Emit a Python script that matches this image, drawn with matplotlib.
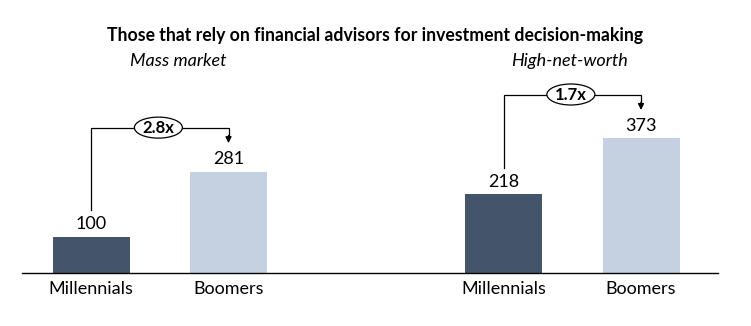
import matplotlib
matplotlib.use("Agg")
import matplotlib.pyplot as plt
from matplotlib.patches import Ellipse

plt.rcParams["font.family"] = ["Lato", "DejaVu Sans"]

# data
groups = ["Mass market", "High-net-worth"]
categories = ["Millennials", "Boomers", "Millennials", "Boomers"]
millennials = [100, 218]
boomers = [281, 373]
title = "Those that rely on financial advisors for investment decision-making"

DARK = "#44546A"
LIGHT = "#C5D0E1"

W, H = 751, 326
fig = plt.figure(figsize=(W / 100, H / 100), dpi=100)

# axes placed so the baseline sits where the original has it
base_px = 272.7
top_px = 20.0
ax = fig.add_axes([22 / W, (H - base_px) / H, 696 / W, (base_px - top_px) / H])
ax.set_xlim(-0.502, 4.56)
ax.set_ylim(0, (base_px - top_px) / 0.36)

xpos = [0, 1, 3, 4]
values = [millennials[0], boomers[0], millennials[1], boomers[1]]
colors = [DARK, LIGHT, DARK, LIGHT]
ax.bar(xpos, values, width=0.56, color=colors)

for x, v in zip(xpos, values):
    ax.text(x, v + 12, f"{v}", ha="center", va="bottom", fontsize=13)

# brackets with ratio bubbles
for i, (m, b) in enumerate(zip(millennials, boomers)):
    x0, x1 = xpos[2 * i], xpos[2 * i + 1]
    y_start = m + 73
    y_top = b + 122
    y_tip = b + 79
    ax.plot([x0, x0, x1, x1], [y_start, y_top, y_top, y_tip + 20],
            color="black", lw=0.9, solid_joinstyle="miter")
    ax.annotate("", xy=(x1, y_tip), xytext=(x1, y_tip + 22),
                arrowprops=dict(arrowstyle="-|>", color="black", lw=0.9,
                                mutation_scale=9, shrinkA=0, shrinkB=0))
    xm = (x0 + x1) / 2 - 0.01
    ax.add_patch(Ellipse((xm, y_top), 48 / 137.5, 21 / 0.36, facecolor="white",
                         edgecolor="black", lw=0.9, zorder=3))
    ax.text(xm, y_top, f"{b / m:.1f}x", ha="center", va="center",
            fontsize=12, fontweight="bold", zorder=4)

ax.set_xticks(xpos)
ax.set_xticklabels(categories, fontsize=13)
ax.tick_params(axis="x", length=0, pad=6)
ax.set_yticks([])
for side in ["top", "left", "right"]:
    ax.spines[side].set_visible(False)
ax.spines["bottom"].set_linewidth(1.0)

fig.text(375 / W, 1 - 36 / H, title, ha="center", va="center",
         fontsize=12.7, fontweight="bold")
fig.text(178 / W, 1 - 61 / H, groups[0], ha="center", va="center",
         fontsize=13, style="italic")
fig.text(569 / W, 1 - 61 / H, groups[1], ha="center", va="center",
         fontsize=13, style="italic")

fig.savefig("out.png", dpi=100)
